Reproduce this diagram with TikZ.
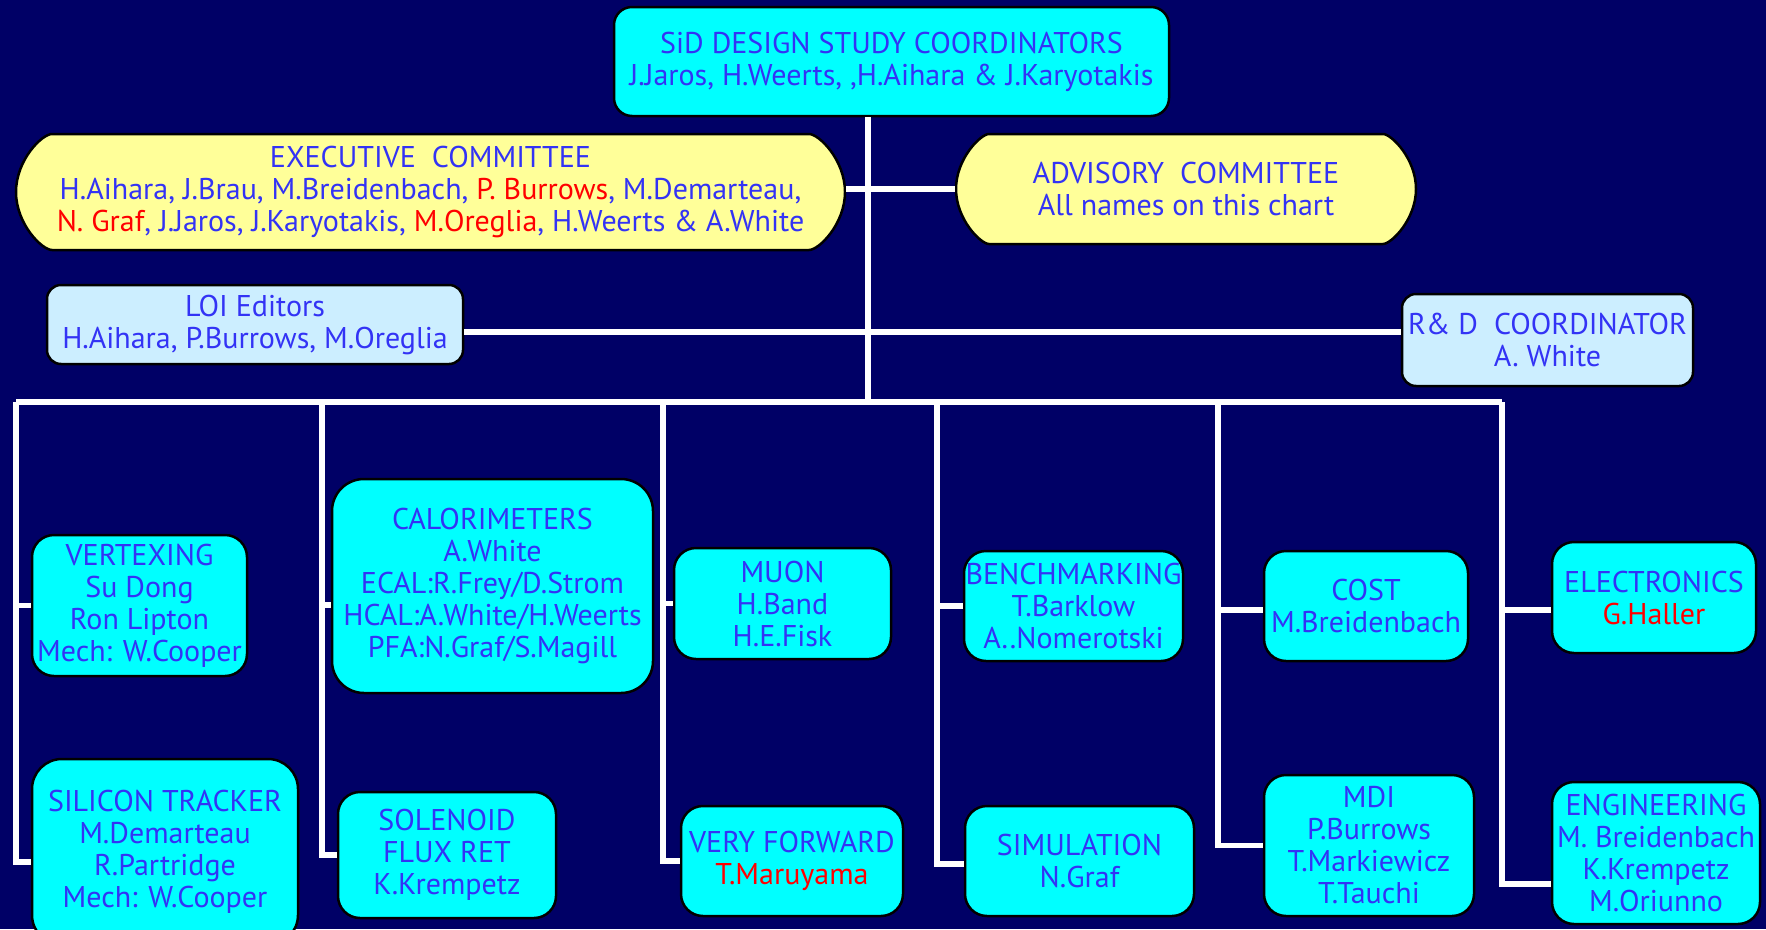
\documentclass[tikz,border=0pt]{standalone}
\usepackage{fontspec}
\setmainfont{PT Sans}
\usetikzlibrary{shapes.misc}
\definecolor{sidNavy}{HTML}{000066}
\definecolor{sidCyan}{HTML}{00FFFF}
\definecolor{sidCream}{HTML}{FFFF99}
\definecolor{sidPale}{HTML}{CCEEFF}
\definecolor{sidInk}{HTML}{3333F5}
\definecolor{sidRed}{HTML}{FF0000}
\newcommand{\hot}[1]{\textcolor{sidRed}{#1}}
\begin{document}
\begin{tikzpicture}[x=1pt,y=-1pt,line join=miter]
\path[fill=sidNavy] (0,0) rectangle (1766,929);
\useasboundingbox (0,0) rectangle (1766,929);
\tikzset{wire/.style={draw=white,line width=5.5pt},
  unit/.style={draw=black,line width=2.5pt,fill=sidCyan,rounded corners=22pt,text=sidInk,align=center,inner sep=0pt,font=\fontsize{30}{32}\selectfont},
  pill/.style={unit,rounded rectangle,fill=sidCream},
  lead/.style={unit,fill=sidPale,rounded corners=14pt}}
% management
\node[unit,minimum width=555pt,minimum height=109pt,rounded corners=18pt] (coord) at (891.5,61.5) {SiD DESIGN STUDY COORDINATORS\\J.Jaros, H.Weerts, ,H.Aihara \& J.Karyotakis};
\node[pill,minimum width=829pt,minimum height=116pt] (exec) at (430.5,192) {EXECUTIVE\ \ COMMITTEE\\H.Aihara, J.Brau, M.Breidenbach, \hot{P. Burrows}, M.Demarteau,\\\hot{N. Graf}, J.Jaros, J.Karyotakis, \hot{M.Oreglia}, H.Weerts \& A.White};
\node[pill,minimum width=460pt,minimum height=110pt] (advis) at (1186,189) {ADVISORY\ \ COMMITTEE\\All names on this chart};
\node[lead,minimum width=416pt,minimum height=79pt] (loi) at (255,324.5) {LOI Editors\\H.Aihara, P.Burrows, M.Oreglia};
\node[lead,minimum width=291pt,minimum height=92pt] (rnd) at (1547.5,340) {R\& D\ \ COORDINATOR\\A. White};
% subsystems
\node[unit,minimum width=215pt,minimum height=141pt] (vtx) at (139.5,605.5) {VERTEXING\\Su Dong\\Ron Lipton\\Mech: W.Cooper};
\node[unit,minimum width=266pt,minimum height=186pt,rounded corners=30pt] (sit) at (165,852) {SILICON TRACKER\\M.Demarteau\\R.Partridge\\Mech: W.Cooper};
\node[unit,minimum width=321pt,minimum height=214pt,rounded corners=32pt] (calo) at (492.5,586) {CALORIMETERS\\A.White\\ECAL:R.Frey/D.Strom\\HCAL:A.White/H.Weerts\\PFA:N.Graf/S.Magill};
\node[unit,minimum width=218pt,minimum height=126pt] (sol) at (447,855) {SOLENOID\\FLUX RET\\K.Krempetz};
\node[unit,minimum width=217pt,minimum height=111pt] (muon) at (782.5,603.5) {MUON\\H.Band\\H.E.Fisk};
\node[unit,minimum width=222pt,minimum height=110pt] (vfwd) at (792,861) {VERY FORWARD\\\hot{T.Maruyama}};
\node[unit,minimum width=219pt,minimum height=110pt] (bench) at (1073.5,606) {BENCHMARKING\\T.Barklow\\A..Nomerotski};
\node[unit,minimum width=229pt,minimum height=110pt] (sim) at (1079.5,861) {SIMULATION\\N.Graf};
\node[unit,minimum width=204pt,minimum height=110pt] (cost) at (1366,606) {COST\\M.Breidenbach};
\node[unit,minimum width=210pt,minimum height=141pt] (mdi) at (1369,845.5) {MDI\\P.Burrows\\T.Markiewicz\\T.Tauchi};
\node[unit,minimum width=204pt,minimum height=111pt] (elec) at (1654,597.5) {ELECTRONICS\\\hot{G.Haller}};
\node[unit,minimum width=208pt,minimum height=142pt] (eng) at (1656,853) {ENGINEERING\\M. Breidenbach\\K.Krempetz\\M.Oriunno};
% wiring
\coordinate (trunk) at (868,402); \coordinate (rail) at (868,332);
\coordinate (c1) at (16,402); \coordinate (c2) at (322,402); \coordinate (c3) at (663,402);
\coordinate (c4) at (937,402); \coordinate (c5) at (1218,402); \coordinate (c6) at (1502,402);
\draw[wire] (coord.south -| trunk) -- (trunk);
\draw[wire] (advis.west) -- (advis.west -| exec.east);
\draw[wire] (loi.east |- rail) -- (rnd.west |- rail);
\draw[wire] (c1) -- (c6);
\draw[wire] (vtx.west -| c1) -- (vtx.west); \draw[wire] (c1) |- ([yshift=-10pt]sit.west);
\draw[wire] ([yshift=-19pt]calo.west -| c2) -- ([yshift=-19pt]calo.west); \draw[wire] (c2) |- (sol.west);
\draw[wire] (muon.west -| c3) -- (muon.west); \draw[wire] (c3) |- (vfwd.west);
\draw[wire] (bench.west -| c4) -- (bench.west); \draw[wire] (c4) |- ([yshift=-3pt]sim.west);
\draw[wire] ([yshift=-4pt]cost.west -| c5) -- ([yshift=-4pt]cost.west); \draw[wire] (c5) |- (mdi.west);
\draw[wire] ([yshift=-12.5pt]elec.west -| c6) -- ([yshift=-12.5pt]elec.west); \draw[wire] (c6) |- ([yshift=-31pt]eng.west);
\end{tikzpicture}
\end{document}
